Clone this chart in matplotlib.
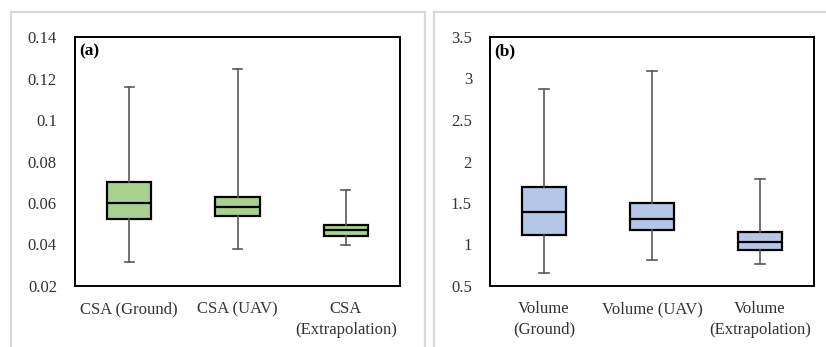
import matplotlib
matplotlib.use("Agg")
import matplotlib.pyplot as plt
from matplotlib.patches import Rectangle

plt.rcParams['font.family'] = ['Liberation Serif', 'DejaVu Serif']

# Panel (a): cross-sectional area
csa_labels = ["CSA (Ground)", "CSA (UAV)", "CSA\n(Extrapolation)"]
csa_whislo = [0.0316, 0.0377, 0.0400]
csa_q1 = [0.0523, 0.0539, 0.0441]
csa_med = [0.0600, 0.0581, 0.0470]
csa_q3 = [0.0700, 0.0630, 0.0492]
csa_whishi = [0.1160, 0.1246, 0.0661]
csa_ticks = [0.02, 0.04, 0.06, 0.08, 0.1, 0.12, 0.14]
csa_ticklabels = ["0.02", "0.04", "0.06", "0.08", "0.1", "0.12", "0.14"]

# Panel (b): volume
vol_labels = ["Volume\n(Ground)", "Volume (UAV)", "Volume\n(Extrapolation)"]
vol_whislo = [0.66, 0.813, 0.765]
vol_q1 = [1.114, 1.171, 0.938]
vol_med = [1.388, 1.307, 1.030]
vol_q3 = [1.689, 1.500, 1.147]
vol_whishi = [2.874, 3.090, 1.789]
vol_ticks = [0.5, 1, 1.5, 2, 2.5, 3, 3.5]
vol_ticklabels = ["0.5", "1", "1.5", "2", "2.5", "3", "3.5"]

W, H = 826, 347
fig = plt.figure(figsize=(W / 100, H / 100), dpi=100)
fig.patch.set_facecolor("white")

# light frames around each panel (cut off at the lower/right edge)
for x0, x1 in [(11, 425), (434, 840)]:
    fig.patches.append(Rectangle((x0 / W, -20 / H), (x1 - x0) / W, (H - 12 + 20) / H,
                                 transform=fig.transFigure, fill=False,
                                 edgecolor="#D9D9D9", linewidth=1.6, zorder=0))


def draw_panel(rect, labels, lo, q1, med, q3, hi, ticks, ticklabels, ylim, fill, tag):
    ax = fig.add_axes(rect)
    stats = [dict(label=l, whislo=a, q1=b, med=c, q3=d, whishi=e, fliers=[])
             for l, a, b, c, d, e in zip(labels, lo, q1, med, q3, hi)]
    ax.bxp(stats, positions=[1, 2, 3], widths=0.41, capwidths=0.085,
           patch_artist=True, showfliers=False,
           boxprops=dict(facecolor=fill, edgecolor="black", linewidth=1.6),
           medianprops=dict(color="black", linewidth=1.6),
           whiskerprops=dict(color="#595959", linewidth=1.2),
           capprops=dict(color="#595959", linewidth=1.2))
    ax.set_xlim(0.5, 3.5)
    ax.set_ylim(*ylim)
    ax.set_yticks(ticks)
    ax.set_yticklabels(ticklabels)
    ax.tick_params(axis="both", length=0, labelsize=12, colors="#333333")
    ax.tick_params(axis="y", pad=13)
    ax.tick_params(axis="x", pad=11)
    for lab in ax.get_xticklabels():
        lab.set_linespacing(1.38)
    for s in ax.spines.values():
        s.set_linewidth(1.4)
        s.set_color("black")
    ax.text(0.012, 0.975, tag, transform=ax.transAxes, ha="left", va="top",
            fontsize=12.5, fontweight="bold")
    return ax


draw_panel([75 / W, (H - 286) / H, 325 / W, 249 / H], csa_labels,
           csa_whislo, csa_q1, csa_med, csa_q3, csa_whishi,
           csa_ticks, csa_ticklabels, (0.02, 0.14), "#A9D18E", "(a)")
draw_panel([490 / W, (H - 286) / H, 324 / W, 249 / H], vol_labels,
           vol_whislo, vol_q1, vol_med, vol_q3, vol_whishi,
           vol_ticks, vol_ticklabels, (0.5, 3.5), "#B4C7E7", "(b)")

fig.savefig("out.png", dpi=100)
